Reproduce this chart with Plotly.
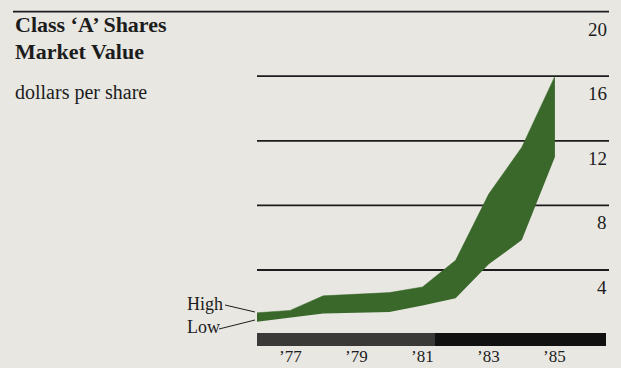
import plotly.graph_objects as go

# ---- data ----
years = [1976, 1977, 1978, 1979, 1980, 1981, 1982, 1983, 1984, 1985]
high = [1.35, 1.5, 2.4, 2.5, 2.6, 2.95, 4.6, 8.7, 11.6, 16.0]
low = [0.8, 1.05, 1.3, 1.35, 1.4, 1.8, 2.25, 4.35, 5.85, 11.0]
tick_vals = [4, 8, 12, 16, 20]
tick_text = ["4", "8", "12", "16", "20"]
year_ticks = [1977, 1979, 1981, 1983, 1985]
year_text = ["’77", "’79", "’81", "’83", "’85"]

W, H = 621, 368
BG = "#e8e7e2"
GREEN = "#3a682b"
INK = "#1c1c1c"
FONT = "Liberation Serif"

# pixel <-> data mapping helpers (axes span the whole figure)
X0_PX, X_STEP = 257.0, 33.1       # 1976 at 257 px, 33.1 px per year
Y0_PX, Y_STEP = 334.6, 16.15      # value 0 at 334.6 px, 16.15 px per unit
x_range = [1976 - X0_PX / X_STEP, 1976 + (W - X0_PX) / X_STEP]
y_range = [-(H - Y0_PX) / Y_STEP, Y0_PX / Y_STEP]

def px(xp):
    return xp / W

def py(yp):
    return 1 - yp / H

fig = go.Figure()
fig.add_trace(go.Scatter(x=years, y=low, mode="lines",
                         line=dict(width=0, color=GREEN), hoverinfo="skip",
                         showlegend=False))
fig.add_trace(go.Scatter(x=years, y=high, mode="lines", fill="tonexty",
                         fillcolor=GREEN, line=dict(width=0.5, color=GREEN),
                         hoverinfo="skip", showlegend=False))

shapes = []
# gridlines
for v in tick_vals:
    x_start = px(13) if v == 20 else px(257)
    shapes.append(dict(type="line", xref="paper", yref="y",
                       x0=x_start, x1=px(609), y0=v, y1=v,
                       line=dict(color=INK, width=1.8), layer="below"))
# timeline bar
shapes.append(dict(type="rect", xref="paper", yref="paper",
                   x0=px(257), x1=px(435), y0=py(346), y1=py(333),
                   fillcolor="#3b3937", line=dict(width=0), layer="above"))
shapes.append(dict(type="rect", xref="paper", yref="paper",
                   x0=px(435), x1=px(606), y0=py(346), y1=py(333),
                   fillcolor="#111111", line=dict(width=0), layer="above"))
# High / Low leader lines
shapes.append(dict(type="line", xref="paper", yref="paper",
                   x0=px(225), y0=py(305), x1=px(255), y1=py(312),
                   line=dict(color=INK, width=1)))
shapes.append(dict(type="line", xref="paper", yref="paper",
                   x0=px(219), y0=py(329), x1=px(255), y1=py(320),
                   line=dict(color=INK, width=1)))

ann = []
# y tick labels (right aligned, below each line)
for v, t in zip(tick_vals, tick_text):
    ann.append(dict(x=px(609), xref="paper", y=v, yref="y", yshift=-17.5,
                    text=t, showarrow=False, xanchor="right", yanchor="middle",
                    font=dict(family=FONT, size=19, color=INK)))
# year labels
for yr, t in zip(year_ticks, year_text):
    ann.append(dict(x=yr, xref="x", y=py(356), yref="paper", text=t,
                    showarrow=False, xanchor="center", yanchor="middle",
                    font=dict(family=FONT, size=17, color=INK)))
# titles
ann.append(dict(x=px(13), xref="paper", y=py(24.5), yref="paper",
                text="<b>Class ‘A’ Shares</b>", showarrow=False,
                xanchor="left", yanchor="middle",
                font=dict(family=FONT, size=22, color=INK)))
ann.append(dict(x=px(13), xref="paper", y=py(52), yref="paper",
                text="<b>Market Value</b>", showarrow=False,
                xanchor="left", yanchor="middle",
                font=dict(family=FONT, size=22, color=INK)))
ann.append(dict(x=px(13), xref="paper", y=py(92), yref="paper",
                text="dollars per share", showarrow=False,
                xanchor="left", yanchor="middle",
                font=dict(family=FONT, size=20, color=INK)))
# High / Low labels
ann.append(dict(x=px(185), xref="paper", y=py(304), yref="paper",
                text="High", showarrow=False, xanchor="left", yanchor="middle",
                font=dict(family=FONT, size=18, color=INK)))
ann.append(dict(x=px(185), xref="paper", y=py(327), yref="paper",
                text="Low", showarrow=False, xanchor="left", yanchor="middle",
                font=dict(family=FONT, size=18, color=INK)))

fig.update_layout(
    width=W, height=H,
    margin=dict(l=0, r=0, t=0, b=0),
    paper_bgcolor=BG, plot_bgcolor=BG,
    xaxis=dict(range=x_range, visible=False, fixedrange=True),
    yaxis=dict(range=y_range, visible=False, fixedrange=True),
    shapes=shapes, annotations=ann, showlegend=False,
)

fig.write_html("out.html")
